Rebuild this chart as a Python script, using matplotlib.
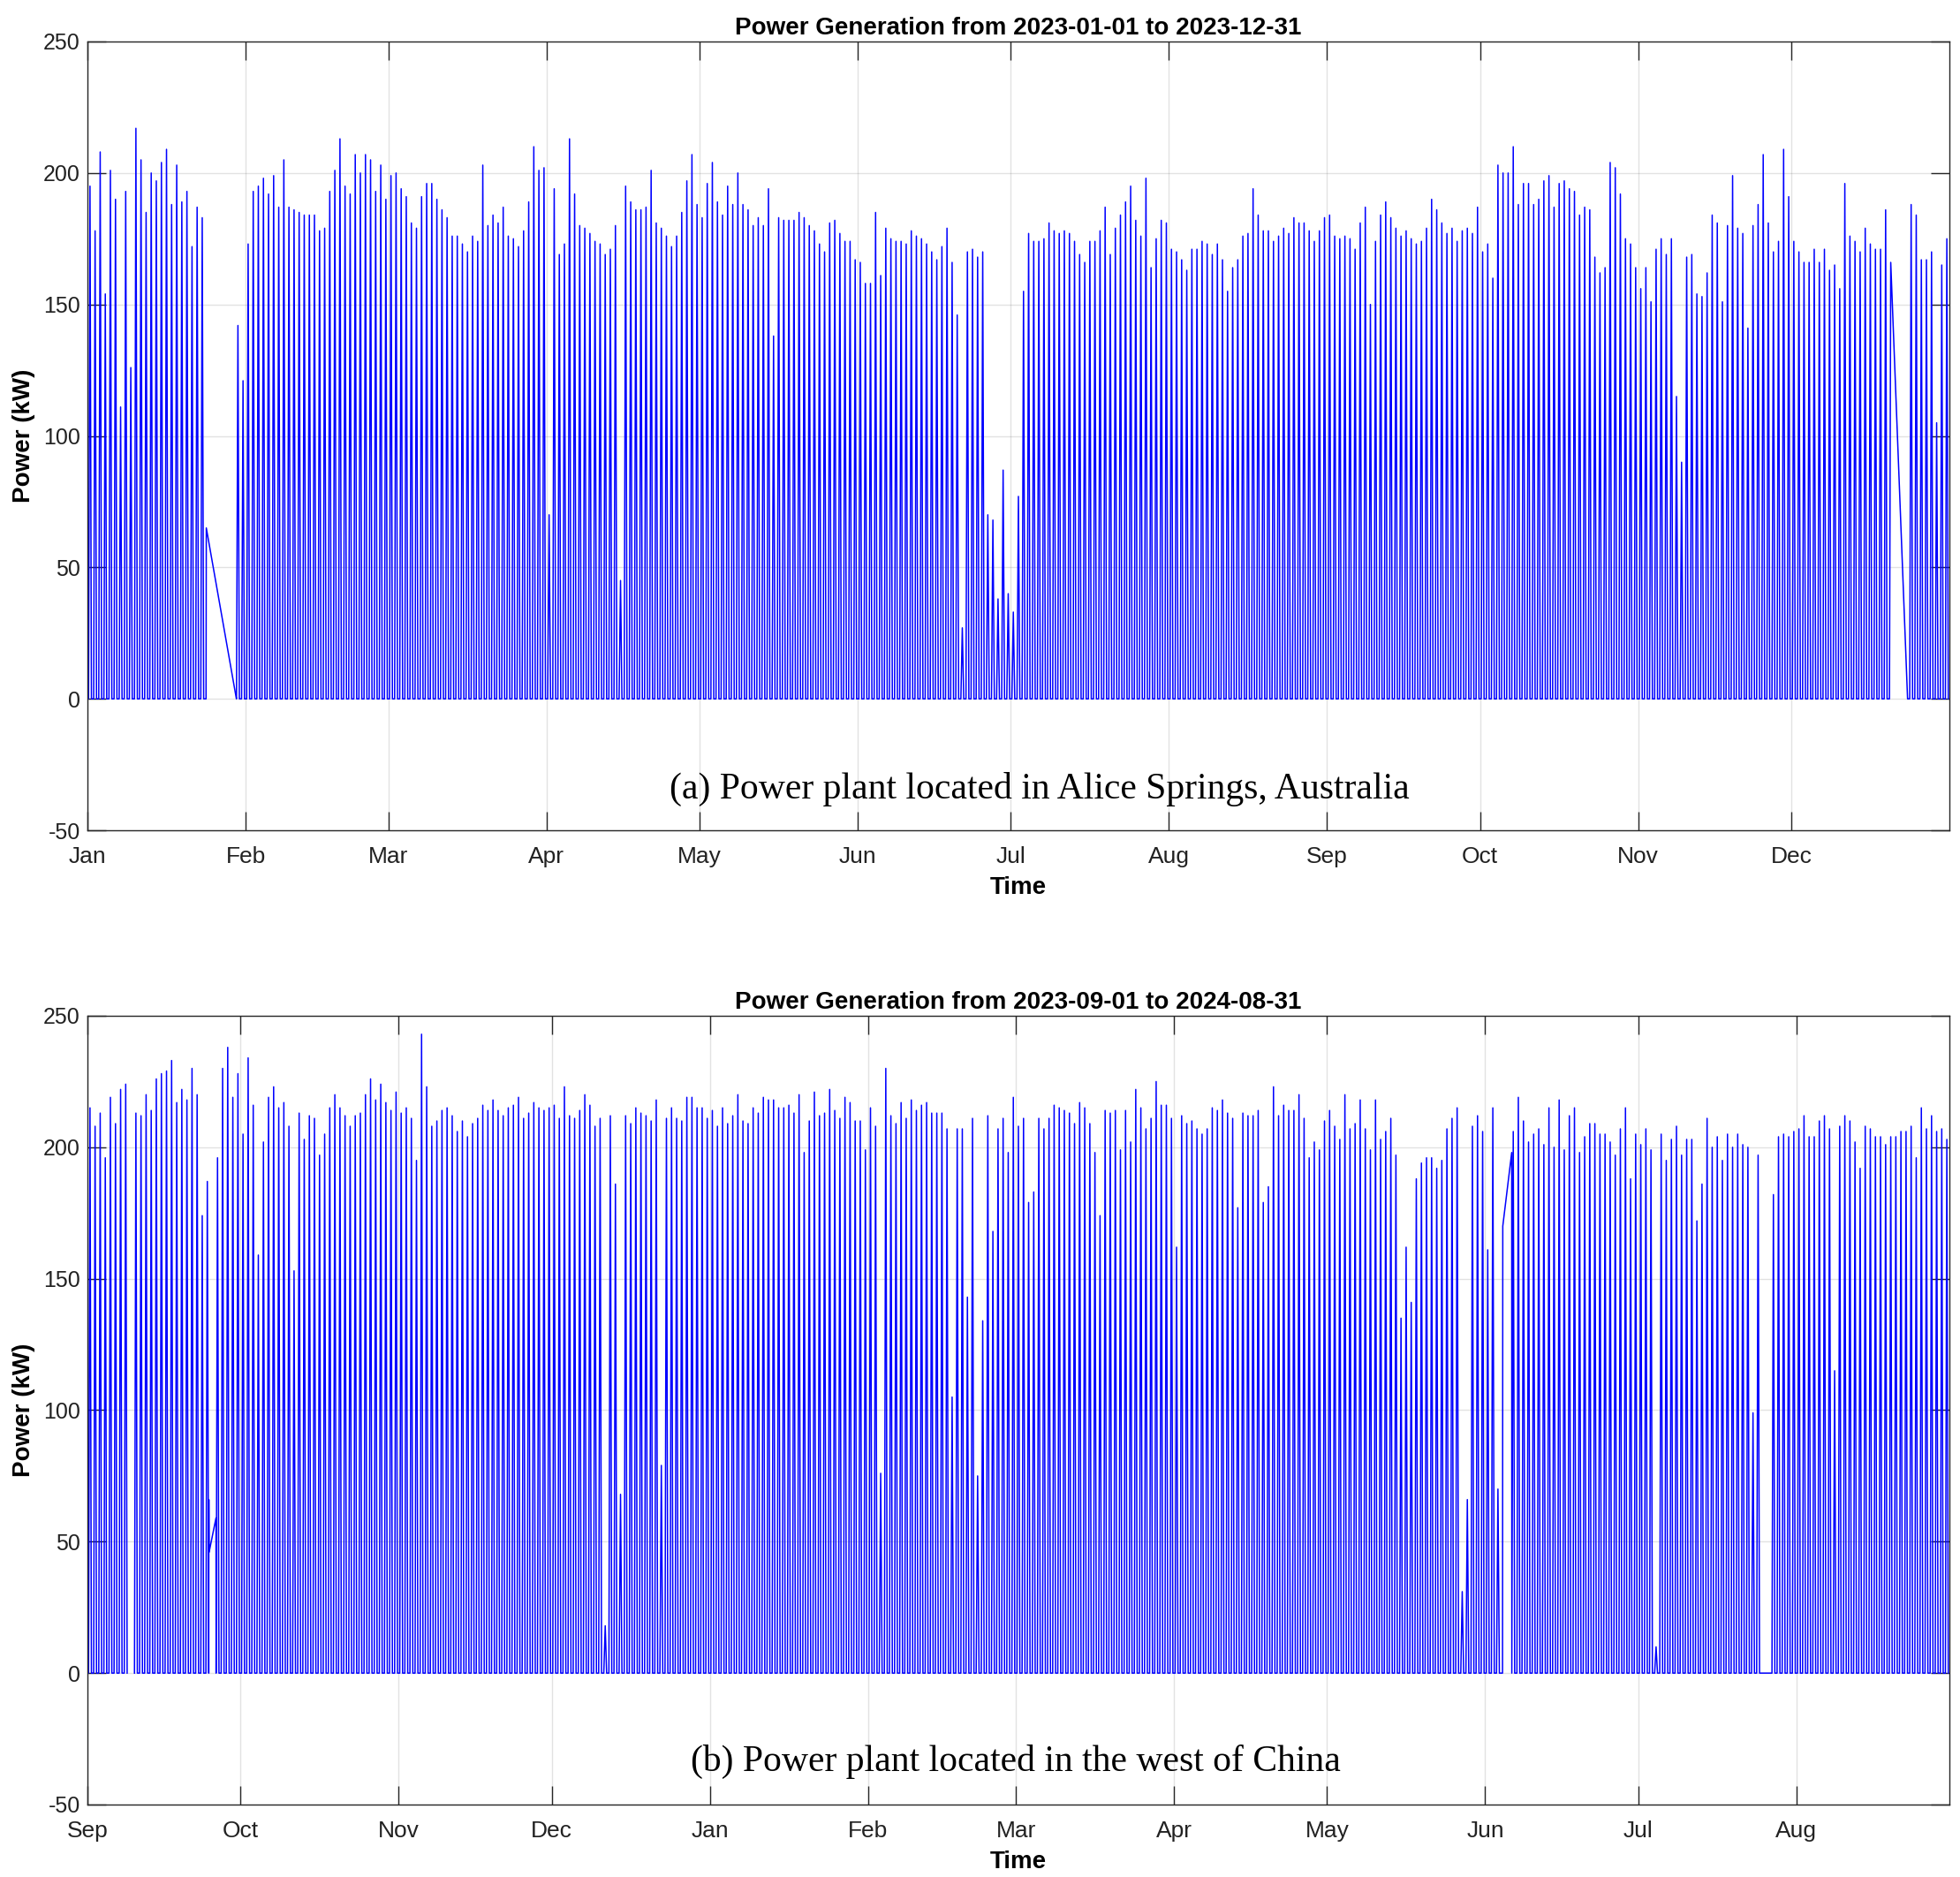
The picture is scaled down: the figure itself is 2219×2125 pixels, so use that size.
import numpy as np
import pandas as pd
import matplotlib
matplotlib.use("Agg")
import matplotlib.pyplot as plt
import matplotlib.dates as mdates

plt.rcParams["font.family"] = ["Liberation Sans", "DejaVu Sans"]
plt.rcParams["axes.unicode_minus"] = False

# daily peak power (kW), one value per day; None = no sample (line bridges), nan = break
start_a = pd.Timestamp("2023-01-01")
peaks_a = [
    195, 178, 208, 154, 201, 190, 111, 193, 126, 217, 205, 185, 200, 197, 204,
    209, 188, 203, 189, 193, 172, 187, 183, None, None, None, None, None, None, 142,
    121,
    173, 193, 195, 198, 192, 199, 187, 205, 187, 186, 185, 184, 184, 184,
    178, 179, 193, 201, 213, 195, 192, 207, 200, 207, 205, 193, 203, 190,
    199, 200, 194, 191, 181, 179, 191, 196, 196, 190, 186, 183, 176, 176, 173, 170,
    176, 174, 203, 180, 184, 181, 187, 176, 175, 172, 178, 189, 210, 201, 202,
    70, 194, 169, 173, 213, 192, 180, 179, 177, 174, 173, 169, 171, 180, 45,
    195, 189, 186, 186, 187, 201, 181, 179, 176, 172, 176, 185, 197, 207, 188,
    183, 196, 204, 189, 184, 195, 188, 200, 188, 186, 180, 183, 180, 194, 138, 183,
    182, 182, 182, 185, 183, 180, 178, 173, 170, 181, 182, 177, 174, 174, 167,
    166, 158, 158, 185, 161, 179, 175, 174, 174, 173, 178, 176, 175, 173, 170,
    167, 172, 179, 166, 146, 27, 170, 171, 168, 170, 70, 68, 38, 87, 40,
    33, 77, 155, 177, 174, 174, 175, 181, 178, 177, 178, 177, 174, 169, 166, 174,
    174, 178, 187, 169, 179, 184, 189, 195, 182, 176, 198, 164, 175, 182, 181,
    171, 170, 167, 163, 171, 171, 174, 173, 169, 173, 167, 155, 164, 167, 176, 177,
    194, 184, 178, 178, 174, 176, 179, 177, 183, 181, 181, 178, 174, 178, 183,
    184, 176, 175, 176, 175, 171, 181, 187, 150, 174, 184, 189, 183, 179, 176,
    178, 175, 173, 174, 179, 190, 186, 181, 177, 179, 174, 178, 179, 177, 187,
    170, 173, 160, 203, 200, 200, 210, 188, 196, 196, 188, 190, 197, 199, 187, 196,
    197, 194, 193, 184, 187, 186, 168, 162, 164, 204, 202, 192, 175, 173, 164,
    156, 164, 151, 171, 175, 169, 175, 115, 90, 168, 169, 154, 153, 162, 184,
    181, 151, 180, 199, 179, 177, 141, 180, 188, 207, 181, 170, 174, 209, 191,
    174, 170, 166, 166, 171, 166, 171, 163, 165, 156, 196, 176, 174, 170, 179, 173,
    171, 171, 186, None, None, None, None, 188, 184, 167, 167, 170, 105, 165, 175,
]
# samples around the data gaps (day offset, kW)
extra_t_a = [23.25, 23.3, 29.2, 353.25, 353.5, 356.8]
extra_v_a = [0, 65, 0, 0, 166, 0]

start_b = pd.Timestamp("2023-09-01")
peaks_b = [
    215, 208, 213, 196, 219, 209, 222, 224, np.nan, 213, 212, 220, 214, 226, 228,
    229, 233, 217, 222, 218, 230, 220, 174, 187, None, 196, 230, 238, 219, 228,
    205, 234, 216, 159, 202, 219, 223, 215, 217, 208, 153, 213, 203, 212, 211, 197,
    205, 215, 220, 215, 212, 208, 212, 213, 220, 226, 218, 224, 217, 214, 221,
    213, 215, 211, 195, 243, 223, 208, 210, 214, 215, 212, 206, 210, 204, 209,
    211, 216, 214, 218, 214, 212, 215, 216, 219, 211, 213, 217, 215, 214, 215,
    216, 211, 223, 212, 211, 214, 220, 216, 208, 211, 18, 212, 186, 68, 212, 209,
    215, 213, 212, 210, 218, 79, 211, 215, 211, 210, 219, 219, 215, 215, 211,
    214, 208, 215, 209, 212, 220, 210, 209, 215, 213, 219, 218, 218, 215, 215, 216,
    213, 220, 198, 210, 221, 212, 213, 222, 214, 211, 219, 217, 210, 210, 199,
    215, 208, 76, 230, 212, 209, 217, 211, 218, 214, 216, 217, 213, 213, 213,
    207, 105, 207, 207, 143, 211, 75, 134, 212, 168, 207, 211, 198, 219,
    208, 211, 179, 183, 211, 207, 211, 216, 215, 214, 213, 209, 217, 215, 209, 198,
    174, 214, 213, 214, 199, 214, 202, 222, 215, 207, 211, 225, 216, 216, 211,
    162, 212, 209, 210, 207, 205, 207, 215, 214, 218, 213, 211, 177, 213, 212,
    212, 214, 179, 185, 223, 212, 216, 214, 214, 220, 211, 196, 202, 199, 210,
    214, 208, 203, 220, 207, 209, 218, 207, 199, 218, 203, 206, 211, 197, 135, 162,
    141, 188, 194, 196, 196, 192, 195, 207, 211, 215, 31, 66, 208, 212, 206,
    161, 215, 70, None, None, 206, 219, 210, 202, 205, 207, 201, 215, 200, 218,
    199, 212, 215, 198, 204, 209, 209, 205, 205, 202, 197, 207, 215, 188, 205,
    201, 207, 199, 10, 205, 195, 203, 208, 197, 203, 203, 172, 186, 211, 200, 204,
    195, 205, 200, 205, 201, 200, 99, 197, 0, 0, 182, 204, 205, 204, 206,
    207, 212, 204, 204, 210, 212, 207, 115, 208, 212, 210, 202, 192, 208, 207,
    204, 204, 201, 204, 204, 206, 206, 208, 196, 215, 207, 212, 206, 207, 203,
]
extra_t_b = [0.0, 0.03, 0.08, 23.8, 23.85, 25.2, 277.4, 277.45, 279.2]
extra_v_b = [-45, 250, 0, 66, 46, 59, 0, 170, 198]

titles = ["Power Generation from 2023-01-01 to 2023-12-31",
          "Power Generation from 2023-09-01 to 2024-08-31"]
notes = ["(a) Power plant located in Alice Springs, Australia",
         "(b) Power plant located in the west of China"]


def build_series(start, peaks, extra_t, extra_v):
    t, v = [], []
    for d, p in enumerate(peaks):
        if p is None:
            continue
        if np.isnan(p):
            t.append(d + 0.5)
            v.append(np.nan)
            continue
        t.extend([d + 0.22, d + 0.5, d + 0.78])
        v.extend([0.0, p, 0.0])
    t = np.array(t + list(extra_t), dtype=float)
    v = np.array(v + list(extra_v), dtype=float)
    order = np.argsort(t, kind="stable")
    x = start + pd.to_timedelta(t[order], unit="D")
    return x, v[order]


W, H = 2219, 2125
fig = plt.figure(figsize=(W / 100, H / 100), dpi=100)
DARK = "#262626"

panels = [
    (start_a, peaks_a, extra_t_a, extra_v_a, 47, 0.5114, 0.052),
    (start_b, peaks_b, extra_t_b, extra_v_b, 1150, 0.4986, 0.054),
]
for i, (start, peaks, et, ev, top_px, note_x, note_y) in enumerate(panels):
    ax = fig.add_axes([99 / W, 1 - (top_px + 893) / H, 2108 / W, 893 / H])
    x, v = build_series(start, peaks, et, ev)
    ax.plot(x, v, color=(0, 0, 1), linewidth=1.1)

    end = start + pd.Timedelta(days=365)
    ax.set_xlim(start, end)
    ax.set_ylim(-50, 250)
    ax.set_yticks(np.arange(-50, 251, 50))
    ticks = pd.date_range(start, end, freq="MS", inclusive="left")
    ax.set_xticks(ticks)
    ax.xaxis.set_major_formatter(mdates.DateFormatter("%b"))

    ax.grid(True, color=DARK, alpha=0.13, linewidth=1.0)
    ax.tick_params(direction="in", length=15, width=1.0, top=True, right=True,
                   labelsize=18, colors=DARK, labelcolor="#222222", pad=6)
    ax.tick_params(axis="x", labelsize=19, pad=13)
    for s in ax.spines.values():
        s.set_color(DARK)
        s.set_linewidth(1.0)

    ax.set_title(titles[i], fontsize=20, fontweight="bold", pad=6)
    ax.set_xlabel("Time", fontsize=20, fontweight="bold")
    ax.xaxis.set_label_coords(0.5, -0.058)
    ax.set_ylabel("Power (kW)", fontsize=20, fontweight="bold")
    ax.yaxis.set_label_coords(-0.028, 0.5)

    ax.text(note_x, note_y, notes[i], transform=ax.transAxes, ha="center",
            va="center", fontsize=30, family=["Liberation Serif", "DejaVu Serif"],
            color="black")

fig.savefig("out.png", dpi=100)
